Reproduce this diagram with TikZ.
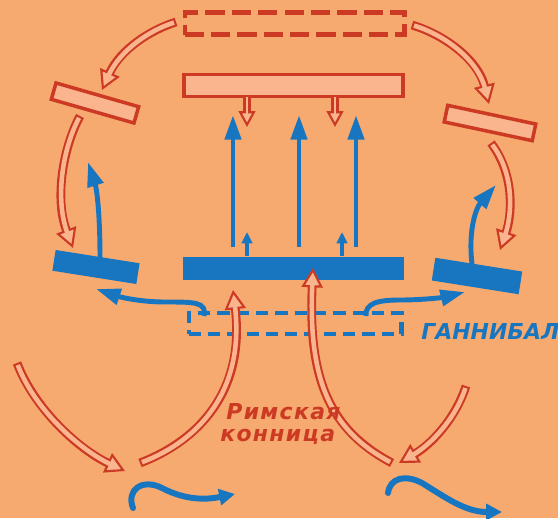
\documentclass[tikz,border=0pt]{standalone}
\usepackage{fontspec}
\newfontfamily\mapfont{DejaVu Sans}
\newfontfamily\mapfontwide[LetterSpace=6]{DejaVu Sans}
\usetikzlibrary{arrows.meta}

\definecolor{mapbg}{RGB}{247,170,112}
\definecolor{romred}{RGB}{204,58,36}
\definecolor{romfill}{RGB}{250,180,142}
\definecolor{carthblue}{RGB}{24,118,192}

% hollow (double) red arrow: outer style #1, inner style #1in
\newcommand{\cavarrow}[2]{%
	\draw[#1] #2;
	\draw[#1in] #2;}

\begin{document}
\begin{tikzpicture}[
		x=0.02cm, y=-0.02cm,
		romghost/.style={draw=romred, line width=2.3pt, dash pattern=on 11pt off 4pt, minimum width=4.4cm, minimum height=0.44cm, inner sep=0pt},
		romline/.style={draw=romred, line width=2pt, fill=romfill, minimum width=4.38cm, minimum height=0.44cm, inner sep=0pt},
		romwing/.style={draw=romred, line width=2pt, fill=romfill, minimum width=1.72cm, minimum height=0.34cm, inner sep=0pt},
		carthline/.style={fill=carthblue, minimum width=4.42cm, minimum height=0.46cm, inner sep=0pt},
		carthghost/.style={draw=carthblue, line width=2.3pt, dash pattern=on 7pt off 4pt, minimum width=4.26cm, minimum height=0.42cm, inner sep=0pt},
		cav/.style={draw=romred, line width=5pt, -{Triangle[length=11pt, width=12pt, line width=1.2pt, fill=romfill]}},
		cavin/.style={draw=romfill, line width=2.6pt, shorten >=9pt, shorten <=1.2pt},
		drop/.style={draw=romred, line width=4pt, -{Triangle[length=9pt, width=9.5pt, line width=1.2pt, fill=romfill]}},
		dropin/.style={draw=romfill, line width=1.6pt, shorten >=7pt},
		push/.style={draw=carthblue, line width=2.8pt, -{Triangle[length=14pt, width=9pt]}},
		pushsmall/.style={draw=carthblue, line width=2pt, -{Triangle[length=6.5pt, width=6pt]}},
		wave/.style={draw=carthblue, line width=3.4pt, line cap=round, -{Triangle[length=9pt, width=9pt]}},
		maptext/.style={font=\mapfont\bfseries\itshape\fontsize{12.5}{14.5}\selectfont, inner sep=0pt},
		maptextwide/.style={font=\mapfontwide\bfseries\itshape\fontsize{12.5}{14.5}\selectfont, inner sep=0pt}
	]
		\fill[mapbg] (0,0) rectangle (558,518);
		\useasboundingbox (0,0) rectangle (558,518);

		% Roman army
		\node[romghost] (oldline) at (294.5,23.5) {};
		\node[romline] (front) at (293.5,85.5) {};
		\node[romwing, rotate=-16] (leftwing) at (95,103) {};
		\node[romwing, rotate=-12, minimum width=1.8cm] (rightwing) at (490,123) {};
		\foreach \x in {247,335}
			{\cavarrow{drop}{(\x,96.5) -- (\x,127)}}

		\cavarrow{cav}{(176,22) .. controls (150,30) and (120,50) .. (102,90)}
		\cavarrow{cav}{(412,25) .. controls (445,35) and (478,60) .. (489,104)}
		\cavarrow{cav}{(80,116) .. controls (62,150) and (55,200) .. (73,248)}
		\cavarrow{cav}{(491,143) .. controls (515,175) and (512,215) .. (500,250)}

		% Hannibal
		\node[carthline] (centre) at (293.5,268.5) {};
		\node[carthline, rotate=-9, minimum width=1.7cm, minimum height=0.42cm] (leftflank) at (96,267) {};
		\node[carthline, rotate=-9, minimum width=1.76cm] (rightflank) at (477,276) {};
		\node[carthghost] (oldcentre) at (295,323.5) {};
		\node[maptext, text=carthblue, anchor=west] (hannibal) at (421,331) {ГАННИБАЛ};

		\foreach \x in {233,299,356}
			\draw[push] (\x,247) -- (\x,115);
		\foreach \x in {247,342}
			\draw[pushsmall] (\x,256) -- (\x,232);
		\draw[push] (100,258) .. controls (100,215) and (97,190) .. (88,162);
		\draw[push] (472,264) .. controls (468,230) and (476,208) .. (496,185);
		\draw[push] (204,316) .. controls (207,302) and (195,302) .. (165,302)
			.. controls (140,302) and (120,297) .. (96,289);
		\draw[push] (366,316) .. controls (365,303) and (378,300) .. (400,300)
			.. controls (425,300) and (445,297) .. (465,292);

		% Roman cavalry
		\cavarrow{cav}{(140,463) .. controls (200,440) and (245,390) .. (233,290)}
		\cavarrow{cav}{(392,463) .. controls (330,430) and (308,380) .. (313,268)}
		\cavarrow{cav}{(17,363) .. controls (35,410) and (80,450) .. (125,471)}
		\cavarrow{cav}{(466,386) .. controls (455,420) and (430,445) .. (399,463)}
		\node[maptextwide, text=romred, anchor=north west] (cavalry) at (226,403) {Римская};
		\node[maptextwide, text=romred, anchor=north west] (cavalry2) at (220,429) {конница};

		% retreat
		\draw[wave] (133,508) .. controls (126,490) and (142,478) .. (162,488)
			.. controls (185,500) and (205,500) .. (235,494);
		\draw[wave] (388,493) .. controls (390,478) and (405,474) .. (422,483)
			.. controls (445,497) and (465,512) .. (502,512);
	\end{tikzpicture}
\end{document}
